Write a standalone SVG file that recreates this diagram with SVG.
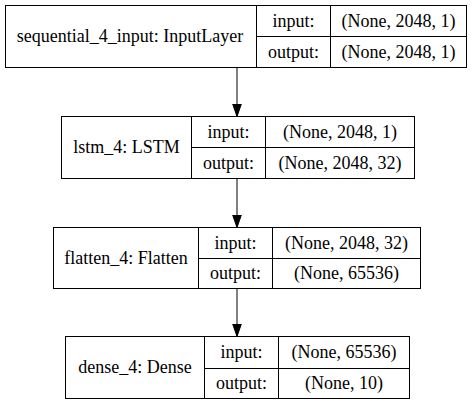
<svg xmlns="http://www.w3.org/2000/svg" width="475" height="405" viewBox="0 0 475 405">
<style>
.box{fill:#fff;stroke:#000;stroke-width:1}
.ln{stroke:#000;stroke-width:1;fill:none}
.edge{stroke:#000;stroke-width:1;fill:none}
</style>
<defs>
<marker id="ah" markerWidth="14" markerHeight="12" refX="13" refY="6" orient="auto" markerUnits="userSpaceOnUse">
<path d="M0,1.5 L13,6 L0,10.5 Z" fill="#000" stroke="#000"/>
</marker>
</defs>
<rect width="475" height="405" fill="#fff"/>
<g id="connectors">
<line class="edge" x1="237" y1="67.5" x2="237" y2="116.5" marker-end="url(#ah)"/>
<line class="edge" x1="237" y1="178.5" x2="237" y2="227.5" marker-end="url(#ah)"/>
<line class="edge" x1="237" y1="288.5" x2="237" y2="336.5" marker-end="url(#ah)"/>
</g>
<g font-family="Liberation Serif" font-size="18" text-anchor="middle" fill="#000">
<g id="n1">
<rect class="box" x="5.5" y="5.5" width="461" height="62"/>
<line class="ln" x1="256.5" y1="5.5" x2="256.5" y2="67.5"/>
<line class="ln" x1="330.5" y1="5.5" x2="330.5" y2="67.5"/>
<line class="ln" x1="256.5" y1="36.5" x2="466.5" y2="36.5"/>
<text x="130" y="42">sequential_4_input: InputLayer</text>
<text x="293.5" y="26.5">input:</text>
<text x="293.5" y="57.5">output:</text>
<text x="398.5" y="26.5">(None, 2048, 1)</text>
<text x="398.5" y="57.5">(None, 2048, 1)</text>
</g>
<g id="n2">
<rect class="box" x="61.5" y="116.5" width="353" height="62"/>
<line class="ln" x1="191.5" y1="116.5" x2="191.5" y2="178.5"/>
<line class="ln" x1="265.5" y1="116.5" x2="265.5" y2="178.5"/>
<line class="ln" x1="191.5" y1="147.5" x2="414.5" y2="147.5"/>
<text x="126.5" y="153">lstm_4: LSTM</text>
<text x="228.5" y="137.5">input:</text>
<text x="228.5" y="168.5">output:</text>
<text x="340" y="137.5">(None, 2048, 1)</text>
<text x="340" y="168.5">(None, 2048, 32)</text>
</g>
<g id="n3">
<rect class="box" x="53.5" y="227.5" width="367" height="61"/>
<line class="ln" x1="198.5" y1="227.5" x2="198.5" y2="288.5"/>
<line class="ln" x1="272.5" y1="227.5" x2="272.5" y2="288.5"/>
<line class="ln" x1="198.5" y1="258.5" x2="420.5" y2="258.5"/>
<text x="126" y="263.5">flatten_4: Flatten</text>
<text x="235.5" y="248.5">input:</text>
<text x="235.5" y="279">output:</text>
<text x="346.5" y="248.5">(None, 2048, 32)</text>
<text x="346.5" y="279">(None, 65536)</text>
</g>
<g id="n4">
<rect class="box" x="65.5" y="336.5" width="344" height="62"/>
<line class="ln" x1="204.5" y1="336.5" x2="204.5" y2="398.5"/>
<line class="ln" x1="278.5" y1="336.5" x2="278.5" y2="398.5"/>
<line class="ln" x1="204.5" y1="368.5" x2="409.5" y2="368.5"/>
<text x="135" y="373">dense_4: Dense</text>
<text x="241.5" y="358">input:</text>
<text x="241.5" y="389">output:</text>
<text x="344" y="358">(None, 65536)</text>
<text x="344" y="389">(None, 10)</text>
</g>
</g>
</svg>
